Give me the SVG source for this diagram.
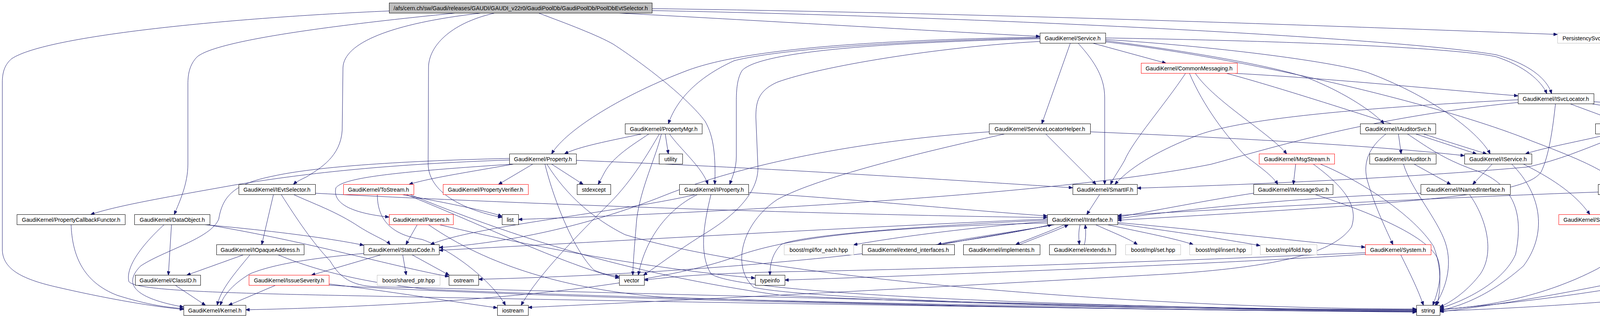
<svg xmlns="http://www.w3.org/2000/svg" width="4707" height="813" viewBox="0 0 4707 813">
<defs>
<marker id="ah" markerWidth="10" markerHeight="8" refX="10" refY="4" orient="auto" markerUnits="userSpaceOnUse"><path d="M0,0 L10,4 L0,8 z" fill="#191970" stroke="#191970" stroke-width="1"/></marker>
</defs>
<style>
.e{fill:none;stroke:#191970;stroke-width:1;marker-end:url(#ah)}
.n rect{fill:#ffffff;stroke:#000000;stroke-width:1}
.r rect{stroke:#ff0000}
.g rect{stroke:#bfbfbf}
.root rect{fill:#bfbfbf}
text{font-family:"Liberation Sans",Arial,sans-serif;font-size:14.3px;fill:#000000;text-anchor:middle}
</style>
<rect width="4707" height="813" fill="#ffffff"/>
<g id="edges">
<path class="e" d="M1585,33.5 C1900,50 2400,80 2662,93"/>
<path class="e" d="M1669,22 C2600,35 3500,70 3987,88"/>
<path class="e" d="M1669,27 C2600,45 3600,100 3830,140 C3920,165 3962,205 3972,239.5"/>
<path class="e" d="M996,28 C600,45 120,90 30,150 C12,165 6,185 6,210 L6,640 C8,690 60,715 150,735 C280,765 400,785 470,791"/>
<path class="e" d="M1165,33.5 C900,60 560,100 505,145 C485,165 481,190 481,215 L481,420 C481,470 460,515 446,548.5"/>
<path class="e" d="M1231,33.5 C1000,60 880,110 878,173 L876,333 C872,400 820,430 785,452 C768,460 757,466 751,471.5"/>
<path class="e" d="M1266,33.5 C1150,60 1097,120 1097,173 L1096,420 C1098,490 1180,535 1285,556"/>
<path class="e" d="M1379,33.5 C1450,60 1530,90 1570,113 C1650,165 1760,250 1805,310 C1828,350 1832,400 1830,471.5"/>
<path class="e" d="M2740,110.5 L2667,316.5"/>
<path class="e" d="M2798,110.5 L2985,161.5"/>
<path class="e" d="M2760,110.5 C2805,160 2828,200 2828,250 L2828,471.5"/>
<path class="e" d="M2830,104 C3000,125 3250,165 3350,200 C3450,240 3520,290 3543,316.5"/>
<path class="e" d="M2830,101 C3100,118 3400,155 3500,185 C3650,240 3780,330 3815,393.5"/>
<path class="e" d="M2830,97 C3200,103 3700,118 3830,145 C3900,168 3945,205 3960,239.5"/>
<path class="e" d="M2830,107 C3200,150 3700,270 3920,360 C4040,405 4120,440 4142,471.5"/>
<path class="e" d="M2662,97 C2300,105 2000,125 1880,155 C1780,200 1730,260 1711,316.5"/>
<path class="e" d="M2662,95 C2200,103 1900,128 1760,180 C1600,240 1450,330 1412,393.5"/>
<path class="e" d="M2662,99 C2300,108 1950,128 1900,180 C1887,200 1885,230 1885,260 L1885,400 C1885,430 1875,452 1868,471.5"/>
<path class="e" d="M2662,106 C2400,120 2100,170 1990,210 C1940,232 1935,262 1935,300 L1940,420 C1945,480 1900,540 1800,600 C1720,650 1670,690 1647,703.5"/>
<path class="e" d="M3160,187.5 C3400,200 3700,230 3886,245"/>
<path class="e" d="M3060,187.5 C3110,260 3250,340 3294,393.5"/>
<path class="e" d="M3045,187.5 C3080,270 3140,350 3190,400 C3230,430 3260,452 3271,471.5"/>
<path class="e" d="M3035,187.5 C2980,270 2900,360 2879,410 C2865,435 2850,455 2843,471.5"/>
<path class="e" d="M3140,187.5 C3300,230 3600,330 3806,393.5"/>
<path class="e" d="M4020,265.5 C4070,285 4120,300 4142,316.5"/>
<path class="e" d="M4080,260 C4300,275 4450,300 4510,330 C4550,355 4563,380 4566,393.5"/>
<path class="e" d="M4075,265.5 C4300,300 4420,320 4437,400 L4437,635 C4440,645 4495,643 4508,646 C4400,690 4150,750 3686,792"/>
<path class="e" d="M3982,265.5 C3975,330 3965,400 3945,440 C3905,495 3700,515 2861,563"/>
<path class="e" d="M3886,255 C3400,280 3150,310 3055,350 C2980,380 2900,420 2854,471.5"/>
<path class="e" d="M3886,262 C3500,300 3250,380 3100,420 C2700,500 1800,545 1327,561"/>
<path class="e" d="M1643,342.5 C1560,360 1480,375 1445,393.5"/>
<path class="e" d="M1714,342.5 C1740,380 1800,430 1812,471.5"/>
<path class="e" d="M1703,342.5 L1711,393.5"/>
<path class="e" d="M1661,342.5 C1620,370 1570,400 1548,440 C1540,455 1535,465 1531,471.5"/>
<path class="e" d="M1688,342.5 C1660,390 1620,460 1560,520 C1480,600 1380,700 1334,780.5"/>
<path class="e" d="M1693,342.5 C1680,400 1640,480 1630,560 C1625,620 1620,680 1620,703.5"/>
<path class="e" d="M1315,419.5 C1200,440 1100,455 1047,471.5"/>
<path class="e" d="M1364,419.5 L1276,471.5"/>
<path class="e" d="M1412,419.5 L1493,471.5"/>
<path class="e" d="M1304,409 C1000,420 800,440 600,473 C450,500 300,525 232,548.5"/>
<path class="e" d="M1314,419.5 C1000,440 880,455 860,480 C850,520 900,545 996,555"/>
<path class="e" d="M1475,410 C2000,430 2500,465 2746,480"/>
<path class="e" d="M1395,419.5 C1420,520 1470,640 1520,690 C1540,700 1560,703 1585,707"/>
<path class="e" d="M1400,419.5 C1450,500 1520,560 1600,600 C2000,720 3000,790 3626,790"/>
<path class="e" d="M1304,405 C1000,412 800,428 700,450 C600,470 570,500 560,560 C540,610 420,640 360,680 C320,720 330,760 470,785"/>
<path class="e" d="M966,497.5 C966,560 1000,600 1080,612 C1160,640 1260,720 1294,780.5"/>
<path class="e" d="M1030,497.5 C1150,520 1250,540 1285,553"/>
<path class="e" d="M1040,497.5 C1200,560 1450,680 1585,711"/>
<path class="e" d="M1050,497.5 C1300,600 1600,700 2000,755 C2600,785 3300,792 3626,793"/>
<path class="e" d="M1068,574.5 L1039,625.5"/>
<path class="e" d="M1125,574.5 C1400,640 1700,690 1933,711"/>
<path class="e" d="M1097,574.5 C1250,680 1450,740 1700,760 C2500,788 3300,795 3626,796"/>
<path class="e" d="M700,497.5 L670,625.5"/>
<path class="e" d="M752,497.5 C800,520 860,540 920,580 C960,605 990,615 999,625.5"/>
<path class="e" d="M807,494 C1500,530 2300,552 2681,556"/>
<path class="e" d="M720,497.5 C760,560 800,620 845,667 C870,710 900,730 960,733 C1500,745 3000,790 3626,794"/>
<path class="e" d="M439,574.5 L431,703.5"/>
<path class="e" d="M420,574.5 C370,620 320,680 330,720 C350,745 600,750 1000,758 C2000,778 3200,794 3626,798"/>
<path class="e" d="M524,574.5 C700,590 850,610 931,627"/>
<path class="e" d="M530,574.5 C800,620 1000,680 1149,707"/>
<path class="e" d="M623,651.5 L478,703.5"/>
<path class="e" d="M640,651.5 C600,700 565,740 556,780.5"/>
<path class="e" d="M712,651.5 C780,680 900,720 1100,740 C2000,778 3200,792 3626,791"/>
<path class="e" d="M931,648 C800,660 700,675 640,700 C590,730 570,760 564,780.5"/>
<path class="e" d="M449,729.5 L526,780.5"/>
<path class="e" d="M705,729.5 L585,780.5"/>
<path class="e" d="M842,726 C1000,745 1150,770 1273,787"/>
<path class="e" d="M842,729 C1500,770 3000,795 3626,797"/>
<path class="e" d="M975,651.5 L797,703.5"/>
<path class="e" d="M1031,651.5 L1040,703.5"/>
<path class="e" d="M1055,651.5 L1150,703.5"/>
<path class="e" d="M1916,492 C2200,510 2500,540 2681,552"/>
<path class="e" d="M1785,497.5 C1700,540 1650,620 1634,703.5"/>
<path class="e" d="M1780,497.5 C1600,540 1200,580 1102,625.5"/>
<path class="e" d="M1820,497.5 C1800,580 1790,650 1820,700 C1900,760 3000,790 3626,793"/>
<path class="e" d="M2815,497.5 L2782,548.5"/>
<path class="e" d="M3209,494 C3100,510 2950,540 2861,555"/>
<path class="e" d="M3367,497.5 C3500,540 3650,600 3680,660 C3695,700 3680,750 3668,780.5"/>
<path class="e" d="M3317,419.5 L3311,471.5"/>
<path class="e" d="M3380,419.5 C3480,460 3620,550 3670,630 C3690,680 3690,740 3678,780.5"/>
<path class="e" d="M3362,419.5 C3430,470 3480,520 3460,580 C3420,640 3300,680 3000,700 C2300,740 1700,770 1352,786"/>
<path class="e" d="M3580,342.5 L3587,393.5"/>
<path class="e" d="M3624,342.5 L3780,393.5"/>
<path class="e" d="M3548,342.5 C3500,380 3490,420 3500,460 C3520,530 3550,590 3566,625.5"/>
<path class="e" d="M3603,342.5 C3660,380 3700,410 3790,440 C3880,480 3900,550 3880,650 C3850,720 3750,770 3686,788"/>
<path class="e" d="M3620,419.5 L3714,471.5"/>
<path class="e" d="M3593,419.5 C3610,480 3680,560 3700,620 C3720,680 3700,740 3674,780.5"/>
<path class="e" d="M3820,419.5 L3770,471.5"/>
<path class="e" d="M3900,419.5 C3960,450 4030,490 4070,548.5"/>
<path class="e" d="M3870,419.5 C3950,500 3960,600 3900,680 C3820,750 3750,780 3686,794"/>
<path class="e" d="M4190,342.5 L4211,393.5"/>
<path class="e" d="M4257,342.5 C4350,360 4450,375 4515,393.5"/>
<path class="e" d="M4122,342.5 C4050,360 3950,378 3905,393.5"/>
<path class="e" d="M4272,342.5 C4330,365 4385,400 4386,440 L4386,635 C4380,668 4300,690 4100,730 C3900,770 3750,790 3686,797"/>
<path class="e" d="M4155,342.5 C4060,380 3990,410 3910,427 C3600,455 3200,472 2911,481"/>
<path class="e" d="M3637,494 C3300,505 3000,540 2861,559"/>
<path class="e" d="M3762,497.5 C3800,550 3830,640 3790,700 C3760,740 3720,770 3686,785"/>
<path class="e" d="M4142,497.5 L4111,548.5"/>
<path class="e" d="M4091,491 C3700,505 3200,530 2861,551"/>
<path class="e" d="M4188,497.5 C4220,560 4180,630 4090,687 C3950,760 3800,785 3686,791"/>
<path class="e" d="M4210,419.5 L4186,471.5"/>
<path class="e" d="M4580,419.5 C4545,500 4537,560 4536,640 C4530,720 4450,740 4300,755 C4100,775 3850,790 3686,795"/>
<path class="e" d="M2700,574.5 C2600,592 2450,612 2400,625.5"/>
<path class="e" d="M2410,625.5 C2500,608 2620,590 2693,574.5"/>
<path class="e" d="M2725,574.5 C2680,595 2630,612 2600,625.5"/>
<path class="e" d="M2610,625.5 C2660,605 2710,588 2735,574.5"/>
<path class="e" d="M2765,574.5 C2760,595 2762,610 2763,625.5"/>
<path class="e" d="M2776,625.5 C2780,610 2780,590 2778,574.5"/>
<path class="e" d="M2805,574.5 C2850,595 2890,610 2912,625.5"/>
<path class="e" d="M2835,574.5 C2930,595 3010,610 3055,625.5"/>
<path class="e" d="M2861,572 C2950,585 3100,605 3226,628"/>
<path class="e" d="M2861,569 C3100,590 3350,620 3495,632"/>
<path class="e" d="M2681,566 C2500,580 2300,605 2185,626"/>
<path class="e" d="M2681,563 C2400,575 2050,600 2000,625 C1975,650 1971,680 1971,703.5"/>
<path class="e" d="M2681,570 C2300,580 2050,600 1900,650 C1700,730 1200,780 629,792"/>
<path class="e" d="M2681,560 C2200,580 1600,615 1124,640"/>
<path class="e" d="M2690,574.5 C2400,640 1800,700 1225,714"/>
<path class="e" d="M3586,651.5 C3610,700 3630,740 3644,780.5"/>
<path class="e" d="M3495,650 C3200,670 2500,700 2009,716"/>
<path class="e" d="M3495,646 C3000,668 2400,688 2050,694 C1800,698 1700,710 1649,716"/>
<path class="e" d="M2677,342.5 L2806,471.5"/>
<path class="e" d="M2791,337 C3100,350 3500,370 3749,398"/>
<path class="e" d="M2532,337 C2200,360 1900,420 1700,500 C1500,580 1300,620 1124,633"/>
<path class="e" d="M2572,342.5 C2400,380 2100,450 1990,510 C1900,570 1870,680 1930,735 C2100,770 3000,790 3626,796"/>
<path class="e" d="M182,574.5 C185,650 210,720 300,755 C380,780 430,786 470,789"/>
</g>
<g id="n_root" class="n root"><rect x="996.5" y="7.5" width="673" height="26"/><text x="1333" y="25.5">/afs/cern.ch/sw/Gaudi/releases/GAUDI/GAUDI_v22r0/GaudiPoolDb/GaudiPoolDb/PoolDbEvtSelector.h</text></g>
<g id="n_Service" class="n"><rect x="2662.5" y="84.5" width="168" height="26"/><text x="2746" y="102.5">GaudiKernel/Service.h</text></g>
<g id="n_ITokenIterator" class="n g"><rect x="3987.5" y="84.5" width="226" height="26"/><text x="4100" y="102.5">PersistencySvc/ITokenIterator.h</text></g>
<g id="n_CommonMessaging" class="n r"><rect x="2921.5" y="161.5" width="246" height="26"/><text x="3044" y="179.5">GaudiKernel/CommonMessaging.h</text></g>
<g id="n_ISvcLocator" class="n"><rect x="3886.5" y="239.5" width="194" height="26"/><text x="3983" y="257.5">GaudiKernel/ISvcLocator.h</text></g>
<g id="n_PropertyMgr" class="n"><rect x="1600.5" y="316.5" width="197" height="26"/><text x="1699" y="334.5">GaudiKernel/PropertyMgr.h</text></g>
<g id="n_ServiceLocatorHelper" class="n"><rect x="2532.5" y="316.5" width="259" height="26"/><text x="2662" y="334.5">GaudiKernel/ServiceLocatorHelper.h</text></g>
<g id="n_IAuditorSvc" class="n"><rect x="3482.5" y="316.5" width="193" height="26"/><text x="3579" y="334.5">GaudiKernel/IAuditorSvc.h</text></g>
<g id="n_ISvcManager" class="n"><rect x="4084.5" y="316.5" width="201" height="26"/><text x="4185" y="334.5">GaudiKernel/ISvcManager.h</text></g>
<g id="n_Property" class="n"><rect x="1304.5" y="393.5" width="171" height="26"/><text x="1390" y="411.5">GaudiKernel/Property.h</text></g>
<g id="n_utility" class="n"><rect x="1687.5" y="393.5" width="60" height="26"/><text x="1717" y="411.5">utility</text></g>
<g id="n_MsgStream" class="n r"><rect x="3223.5" y="393.5" width="193" height="26"/><text x="3320" y="411.5">GaudiKernel/MsgStream.h</text></g>
<g id="n_IAuditor" class="n"><rect x="3506.5" y="393.5" width="170" height="26"/><text x="3591" y="411.5">GaudiKernel/IAuditor.h</text></g>
<g id="n_IService" class="n"><rect x="3749.5" y="393.5" width="172" height="26"/><text x="3835" y="411.5">GaudiKernel/IService.h</text></g>
<g id="n_IComponentManager" class="n"><rect x="4096.5" y="393.5" width="254" height="26"/><text x="4223" y="411.5">GaudiKernel/IComponentManager.h</text></g>
<g id="n_TypeNameString" class="n"><rect x="4475.5" y="393.5" width="226" height="26"/><text x="4588" y="411.5">GaudiKernel/TypeNameString.h</text></g>
<g id="n_IEvtSelector" class="n"><rect x="611.5" y="471.5" width="196" height="26"/><text x="709" y="489.5">GaudiKernel/IEvtSelector.h</text></g>
<g id="n_ToStream" class="n r"><rect x="879.5" y="471.5" width="180" height="26"/><text x="969" y="489.5">GaudiKernel/ToStream.h</text></g>
<g id="n_PropertyVerifier" class="n r"><rect x="1134.5" y="471.5" width="218" height="26"/><text x="1243" y="489.5">GaudiKernel/PropertyVerifier.h</text></g>
<g id="n_stdexcept" class="n"><rect x="1477.5" y="471.5" width="86" height="26"/><text x="1520" y="489.5">stdexcept</text></g>
<g id="n_IProperty" class="n"><rect x="1739.5" y="471.5" width="177" height="26"/><text x="1828" y="489.5">GaudiKernel/IProperty.h</text></g>
<g id="n_SmartIF" class="n"><rect x="2746.5" y="471.5" width="165" height="26"/><text x="2829" y="489.5">GaudiKernel/SmartIF.h</text></g>
<g id="n_IMessageSvc" class="n"><rect x="3209.5" y="471.5" width="203" height="26"/><text x="3311" y="489.5">GaudiKernel/IMessageSvc.h</text></g>
<g id="n_INamedInterface" class="n"><rect x="3637.5" y="471.5" width="229" height="26"/><text x="3752" y="489.5">GaudiKernel/INamedInterface.h</text></g>
<g id="n_IStateful" class="n"><rect x="4091.5" y="471.5" width="173" height="26"/><text x="4178" y="489.5">GaudiKernel/IStateful.h</text></g>
<g id="n_PropertyCallbackFunctor" class="n"><rect x="43.5" y="548.5" width="277" height="26"/><text x="182" y="566.5">GaudiKernel/PropertyCallbackFunctor.h</text></g>
<g id="n_DataObject" class="n"><rect x="344.5" y="548.5" width="193" height="26"/><text x="441" y="566.5">GaudiKernel/DataObject.h</text></g>
<g id="n_Parsers" class="n r"><rect x="996.5" y="548.5" width="164" height="26"/><text x="1078" y="566.5">GaudiKernel/Parsers.h</text></g>
<g id="n_list" class="n"><rect x="1285.5" y="548.5" width="42" height="26"/><text x="1306" y="566.5">list</text></g>
<g id="n_IInterface" class="n"><rect x="2681.5" y="548.5" width="180" height="26"/><text x="2771" y="566.5">GaudiKernel/IInterface.h</text></g>
<g id="n_StateMachine" class="n r"><rect x="3990.5" y="548.5" width="207" height="26"/><text x="4094" y="566.5">GaudiKernel/StateMachine.h</text></g>
<g id="n_IOpaqueAddress" class="n"><rect x="554.5" y="625.5" width="224" height="26"/><text x="666" y="643.5">GaudiKernel/IOpaqueAddress.h</text></g>
<g id="n_StatusCode" class="n"><rect x="931.5" y="625.5" width="193" height="26"/><text x="1028" y="643.5">GaudiKernel/StatusCode.h</text></g>
<g id="n_for_each" class="n g"><rect x="2007.5" y="625.5" width="178" height="26"/><text x="2096" y="643.5">boost/mpl/for_each.hpp</text></g>
<g id="n_extend_interfaces" class="n"><rect x="2207.5" y="625.5" width="236" height="26"/><text x="2325" y="643.5">GaudiKernel/extend_interfaces.h</text></g>
<g id="n_implements" class="n"><rect x="2466.5" y="625.5" width="196" height="26"/><text x="2564" y="643.5">GaudiKernel/implements.h</text></g>
<g id="n_extends" class="n"><rect x="2686.5" y="625.5" width="170" height="26"/><text x="2771" y="643.5">GaudiKernel/extends.h</text></g>
<g id="n_set" class="n g"><rect x="2881.5" y="625.5" width="141" height="26"/><text x="2952" y="643.5">boost/mpl/set.hpp</text></g>
<g id="n_insert" class="n g"><rect x="3045.5" y="625.5" width="159" height="26"/><text x="3125" y="643.5">boost/mpl/insert.hpp</text></g>
<g id="n_fold" class="n g"><rect x="3226.5" y="625.5" width="145" height="26"/><text x="3299" y="643.5">boost/mpl/fold.hpp</text></g>
<g id="n_System" class="n r"><rect x="3495.5" y="625.5" width="168" height="26"/><text x="3579" y="643.5">GaudiKernel/System.h</text></g>
<g id="n_ClassID" class="n"><rect x="346.5" y="703.5" width="167" height="26"/><text x="430" y="721.5">GaudiKernel/ClassID.h</text></g>
<g id="n_IssueSeverity" class="n r"><rect x="637.5" y="703.5" width="205" height="26"/><text x="740" y="721.5">GaudiKernel/IssueSeverity.h</text></g>
<g id="n_shared_ptr" class="n g"><rect x="965.5" y="703.5" width="161" height="26"/><text x="1046" y="721.5">boost/shared_ptr.hpp</text></g>
<g id="n_ostream" class="n"><rect x="1149.5" y="703.5" width="76" height="26"/><text x="1187" y="721.5">ostream</text></g>
<g id="n_vector" class="n"><rect x="1585.5" y="703.5" width="64" height="26"/><text x="1617" y="721.5">vector</text></g>
<g id="n_typeinfo" class="n"><rect x="1933.5" y="703.5" width="76" height="26"/><text x="1971" y="721.5">typeinfo</text></g>
<g id="n_Kernel" class="n"><rect x="470.5" y="780.5" width="159" height="26"/><text x="550" y="798.5">GaudiKernel/Kernel.h</text></g>
<g id="n_iostream" class="n"><rect x="1273.5" y="780.5" width="79" height="26"/><text x="1313" y="798.5">iostream</text></g>
<g id="n_string" class="n"><rect x="3626.5" y="780.5" width="60" height="26"/><text x="3656" y="798.5">string</text></g>
</svg>
